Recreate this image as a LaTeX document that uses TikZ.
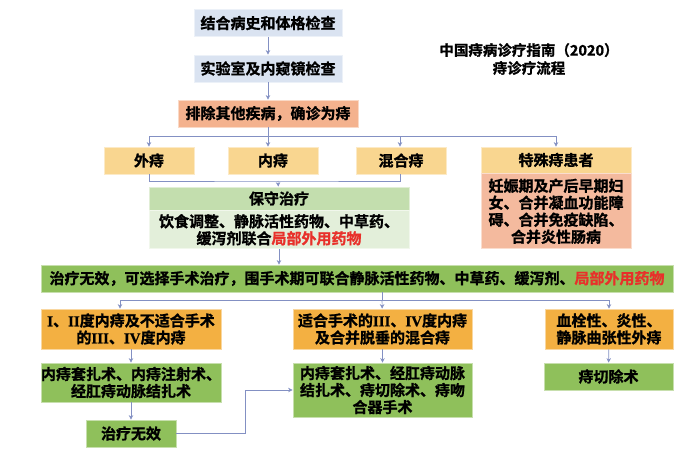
\documentclass[tikz,border=0pt]{standalone}
\usepackage{fontspec}
\setmainfont{Noto Sans CJK SC}[BoldFont={Noto Sans CJK SC Bold}, BoldFeatures={FakeBold=1.2}]
\newfontfamily\romf{Liberation Serif}[BoldFeatures={FakeBold=0.6}]
\newcommand{\rn}[1]{{\romf\bfseries #1}}
\usepackage{xcolor}
\usetikzlibrary{arrows.meta,positioning}

\definecolor{exam}{HTML}{DAE3F1}
\definecolor{salmon}{HTML}{F4B28E}
\definecolor{salmonb}{HTML}{F4BA9E}
\definecolor{type}{HTML}{F9D690}
\definecolor{consh}{HTML}{C3DEAE}
\definecolor{consb}{HTML}{E3EFDA}
\definecolor{surg}{HTML}{8FC05B}
\definecolor{sub}{HTML}{F3B042}
\definecolor{hl}{HTML}{E8302A}
\definecolor{lnc}{HTML}{8390C3}

\begin{document}
\begin{tikzpicture}[
  x=1pt, y=-1pt,
  bx/.style={inner sep=0pt, align=center, line width=0.8pt,
             font=\fontsize{15}{17}\selectfont\bfseries},
  ln/.style={draw=lnc, line width=0.6pt},
  arr/.style={ln, -{Stealth[length=4.5pt,width=4.5pt]}}
]
\useasboundingbox (0,0) rectangle (700,464);

% Diagnosis
\node[bx, fill=exam, draw=exam!50!white, minimum width=148, minimum height=27] (hist) at (268,23) {结合病史和体格检查};
\node[bx, fill=exam, draw=exam!50!white, minimum width=148, minimum height=27] (lab) at (268,68.5) {实验室及内窥镜检查};
\node[bx, fill=salmon, draw=salmon!50!white, minimum width=180, minimum height=27] (diag) at (268,113.5) {排除其他疾病，确诊为痔};
\node[bx, font=\fontsize{14.5}{18}\selectfont\bfseries] (title) at (529,59) {中国痔病诊疗指南（2020）\\痔诊疗流程};

% Types
\node[bx, fill=type, draw=type!50!white, minimum width=90, minimum height=27] (ext) at (149,160.5) {外痔};
\node[bx, fill=type, draw=type!50!white, minimum width=90, minimum height=27] (int) at (273,160.5) {内痔};
\node[bx, fill=type, draw=type!50!white, minimum width=90, minimum height=27] (mix) at (401,160.5) {混合痔};
\node[bx, fill=type, draw=type!50!white, minimum width=150, minimum height=26] (spec) at (556,160) {特殊痔患者};
\node[bx, fill=salmonb, draw=salmonb!50!white, minimum width=150, minimum height=75, below=0 of spec] (specb)
  {妊娠期及产后早期妇\\女、合并凝血功能障\\碍、合并免疫缺陷、\\合并炎性肠病};

% Conservative treatment
\node[bx, fill=consh, draw=consh!50!white, minimum width=260, minimum height=23] (cons) at (279,198.5) {保守治疗};
\node[bx, fill=consb, draw=consb!50!white, minimum width=260, minimum height=38, below=0 of cons] (consb)
  {饮食调整、静脉活性药物、中草药、\\缓泻剂联合\textcolor{hl}{局部外用药物}};

% Surgery
\node[bx, fill=surg, draw=surg!50!white, minimum width=632, minimum height=27] (fail) at (357,278.5)
  {治疗无效，可选择手术治疗，围手术期可联合静脉活性药物、中草药、缓泻剂、\textcolor{hl}{局部外用药物}};
\node[bx, fill=sub, draw=sub!50!white, minimum width=180, minimum height=40] (gl) at (131,329)
  {\rn{I}、\rn{II}度内痔及不适合手术\\的\rn{III}、\rn{IV}度内痔};
\node[bx, fill=sub, draw=sub!50!white, minimum width=179, minimum height=40] (gm) at (382.5,329)
  {适合手术的\rn{III}、\rn{IV}度内痔\\及合并脱垂的混合痔};
\node[bx, fill=sub, draw=sub!50!white, minimum width=128, minimum height=40] (gr) at (609,329) {血栓性、炎性、\\静脉曲张性外痔};
\node[bx, fill=surg, draw=surg!50!white, minimum width=180, minimum height=39] (opl) at (131,382.5) {内痔套扎术、内痔注射术、\\经肛痔动脉结扎术};
\node[bx, fill=surg, draw=surg!50!white, minimum width=179, minimum height=54] (opm) at (382.5,390) {内痔套扎术、经肛痔动脉\\结扎术、痔切除术、痔吻\\合器手术};
\node[bx, fill=surg, draw=surg!50!white, minimum width=129, minimum height=27] (opr) at (608.5,376.5) {痔切除术};
\node[bx, fill=surg, draw=surg!50!white, minimum width=90, minimum height=27] (again) at (131,433.5) {治疗无效};

% Connectors
\coordinate (s1) at (268,136);
\coordinate (j1) at (278,181);
\coordinate (j2) at (382,300);
\draw[arr] (hist) -- (lab);
\draw[arr] (lab) -- (diag);
\draw[ln] (diag) -- (s1);
\draw[arr] (s1) -| (ext);
\draw[arr] (s1) -- (s1|-int.north);
\draw[arr] (s1) -| ([xshift=-1]mix.north);
\draw[arr] (s1) -| (spec);
\draw[ln] (ext) |- (j1) -| ([xshift=-1]mix.south);
\draw[arr] (j1) -- (cons);
\draw[arr] (consb.south) -- (consb.south|-fail.north);
\draw[ln] (j2|-fail.south) -- (j2);
\draw[arr] (j2) -| ([xshift=-11]gl.north);
\draw[arr] (j2) -- (gm);
\draw[arr] (j2) -| (gr);
\draw[arr] (gl) -- (opl);
\draw[arr] (gm) -- (opm);
\draw[arr] (gr) -- (opr);
\draw[arr] (opl) -- (again);
\draw[arr] (again.east) -- ++(69,0) |- (opm.west);
\end{tikzpicture}
\end{document}
